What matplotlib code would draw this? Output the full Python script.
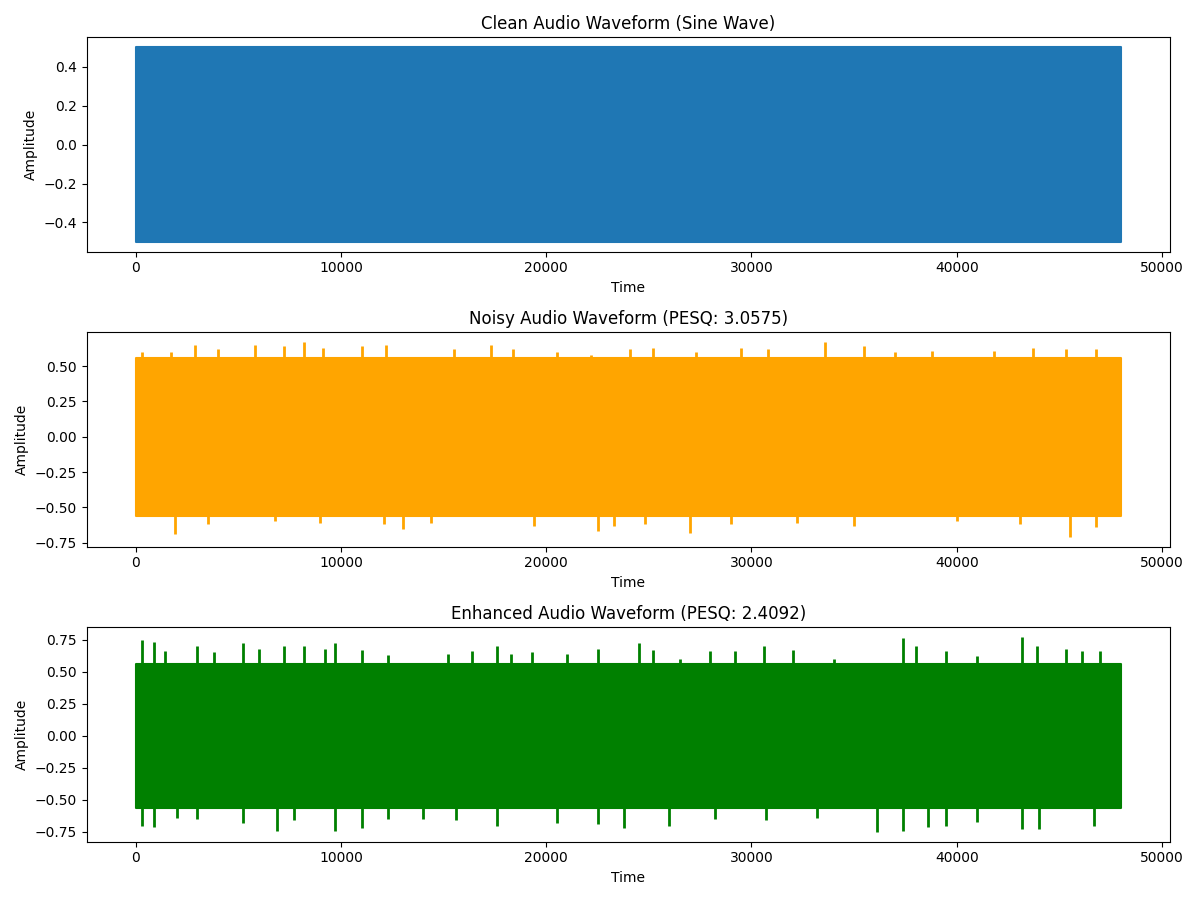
import matplotlib
matplotlib.use("Agg")
import matplotlib.pyplot as plt

n_samples = 48000
clean_env = (-0.5, 0.5)

noisy_base = (-0.56, 0.56)
noisy_up_t = [300,1700,2900,4000,5800,7200,8200,9100,11000,12200,15500,17300,18400,20500,22200,24100,25200,27300,29500,30800,33600,35500,37000,38800,41800,43700,45300,46800]
noisy_up_v = [0.6,0.6,0.65,0.62,0.65,0.64,0.67,0.63,0.64,0.65,0.62,0.65,0.62,0.6,0.58,0.62,0.63,0.6,0.63,0.62,0.67,0.64,0.6,0.61,0.61,0.63,0.62,0.62]
noisy_lo_t = [1900,3500,6800,9000,12100,13000,14400,19400,22500,23300,24800,27000,29000,32200,35000,40000,43100,45500,46800]
noisy_lo_v = [-0.69,-0.62,-0.6,-0.61,-0.62,-0.65,-0.61,-0.63,-0.67,-0.63,-0.62,-0.68,-0.62,-0.61,-0.63,-0.6,-0.62,-0.71,-0.64]

enh_base = (-0.56, 0.56)
enh_up_t = [300,900,1400,3000,3800,5200,6000,7200,8200,9200,9700,11000,12300,15200,16400,17600,18300,19300,21000,22500,24500,25200,26500,28000,29200,30600,32000,34000,37400,38000,39500,41000,43200,43900,45300,46100,47000]
enh_up_v = [0.75,0.73,0.66,0.7,0.65,0.72,0.68,0.7,0.7,0.68,0.72,0.67,0.63,0.64,0.66,0.7,0.64,0.65,0.64,0.68,0.72,0.67,0.6,0.66,0.66,0.7,0.67,0.6,0.76,0.7,0.66,0.62,0.77,0.7,0.68,0.66,0.66]
enh_lo_t = [300,900,2000,3000,5200,6900,7700,9700,11000,12300,14000,15600,17600,20500,22500,23800,26000,28200,30700,33200,36100,37400,38600,39500,41000,43200,44000,46700]
enh_lo_v = [-0.7,-0.71,-0.64,-0.65,-0.68,-0.74,-0.66,-0.74,-0.72,-0.65,-0.65,-0.66,-0.7,-0.68,-0.69,-0.72,-0.7,-0.65,-0.66,-0.64,-0.75,-0.74,-0.71,-0.7,-0.67,-0.73,-0.73,-0.7]

titles = ["Clean Audio Waveform (Sine Wave)",
          "Noisy Audio Waveform (PESQ: 3.0575)",
          "Enhanced Audio Waveform (PESQ: 2.4092)"]

fig, axes = plt.subplots(3, 1, figsize=(12, 9), dpi=100)

ax = axes[0]
ax.fill_between([0, n_samples - 1], clean_env[0], clean_env[1], color="#1f77b4", lw=1.5, edgecolor="#1f77b4")

def draw(ax, base, ut, uv, lt, lv, c):
    ax.fill_between([0, n_samples - 1], base[0], base[1], color=c, lw=1.5, edgecolor=c)
    ax.vlines(ut, base[1] - 0.05, uv, color=c, lw=2)
    ax.vlines(lt, lv, base[0] + 0.05, color=c, lw=2)

draw(axes[1], noisy_base, noisy_up_t, noisy_up_v, noisy_lo_t, noisy_lo_v, "orange")
draw(axes[2], enh_base, enh_up_t, enh_up_v, enh_lo_t, enh_lo_v, "green")

for ax, t in zip(axes, titles):
    ax.set_title(t)
    ax.set_xlabel("Time")
    ax.set_ylabel("Amplitude")
    ax.set_xlim(-2400, 50400)

fig.tight_layout()
fig.savefig("out.png")
